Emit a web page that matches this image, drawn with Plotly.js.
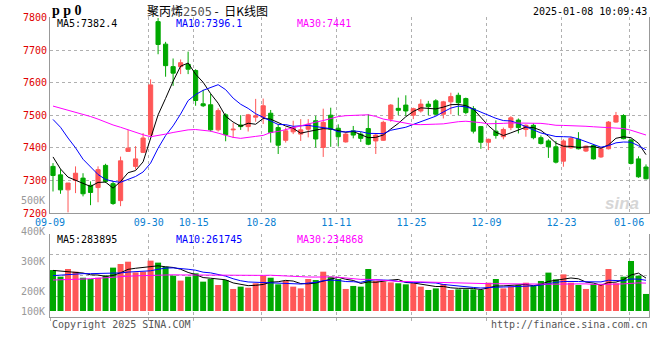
<!DOCTYPE html>
<html><head><meta charset="utf-8">
<script src="https://cdn.plot.ly/plotly-3.0.1.min.js"></script>
<style>html,body{margin:0;padding:0;background:#fff}#chart{width:660px;height:360px}</style>
</head><body><div id="chart"></div>
<script>
// ---- data ----
const dates = ['09-09','09-10','09-11','09-12','09-13','09-18','09-19','09-20','09-23','09-24','09-25','09-26','09-27','09-30',
'10-08','10-09','10-10','10-11','10-14','10-15','10-16','10-17','10-18','10-21','10-22','10-23','10-24','10-25','10-28','10-29','10-30','10-31',
'11-01','11-04','11-05','11-06','11-07','11-08','11-11','11-12','11-13','11-14','11-15','11-18','11-19','11-20','11-21','11-22','11-25','11-26','11-27','11-28','11-29',
'12-02','12-03','12-04','12-05','12-06','12-09','12-10','12-11','12-12','12-13','12-16','12-17','12-18','12-19','12-20','12-23','12-24','12-25','12-26','12-27','12-30','12-31',
'01-02','01-03','01-06','01-07','01-08'];
const openP = [7343,7317,7271,7300,7307,7285,7278,7346,7290,7238,7389,7343,7386,7440,7787,7718,7649,7649,7656,7637,
7535,7532,7455,7501,7455,7470,7465,7494,7493,7506,7462,7423,7449,7442,7457,7483,7401,7500,7460,7418,
7452,7442,7459,7421,7423,7488,7521,7531,7500,7513,7534,7544,7503,7541,7561,7551,7520,7465,7417,7451,
7434,7462,7485,7456,7469,7431,7421,7403,7359,7400,7426,7390,7407,7372,7397,7479,7499,7424,7366,7341];
const highP = [7353,7334,7292,7343,7322,7297,7343,7351,7297,7373,7455,7405,7445,7610,7798,7725,7674,7671,7695,7641,
7578,7566,7521,7506,7476,7500,7504,7550,7551,7516,7472,7462,7483,7488,7488,7498,7520,7523,7472,7447,
7467,7449,7503,7442,7483,7534,7554,7561,7523,7549,7544,7549,7544,7569,7569,7554,7528,7467,7428,7484,
7462,7497,7490,7472,7475,7438,7426,7421,7426,7434,7448,7407,7410,7403,7482,7510,7503,7428,7374,7349];
const lowP = [7266,7259,7202,7261,7251,7224,7233,7292,7225,7221,7389,7333,7384,7434,7687,7618,7590,7626,7626,7529,
7525,7450,7450,7420,7430,7455,7450,7480,7473,7416,7381,7416,7442,7421,7432,7401,7372,7403,7404,7416,
7429,7418,7408,7381,7421,7480,7500,7498,7488,7508,7500,7500,7490,7503,7500,7503,7444,7397,7393,7428,
7426,7454,7444,7434,7426,7410,7369,7352,7342,7397,7395,7387,7364,7369,7395,7477,7426,7349,7308,7303];
const closeP = [7315,7271,7292,7322,7259,7263,7333,7297,7229,7360,7399,7366,7430,7593,7717,7652,7629,7661,7641,7545,
7529,7455,7514,7440,7457,7465,7501,7498,7529,7447,7408,7452,7462,7455,7472,7427,7478,7457,7434,7442,
7439,7429,7411,7439,7478,7531,7515,7513,7520,7534,7526,7503,7541,7557,7538,7508,7451,7417,7426,7438,
7456,7492,7462,7469,7431,7413,7403,7356,7421,7429,7397,7405,7366,7397,7479,7499,7428,7352,7311,7305];
// volume, thousands of lots
const volumeK = [353,296,362,339,287,276,287,305,374,405,425,333,339,434,417,382,305,262,296,325,
253,276,224,267,190,210,201,239,305,287,230,259,210,195,276,267,339,296,276,190,
216,210,362,259,253,247,239,230,239,210,181,195,233,181,187,187,187,181,244,276,
195,210,224,244,216,259,331,273,316,244,224,190,230,224,362,239,296,431,305,147];
// moving-average values before enough bars are visible
const ma5Head = [7372,7335,7310,7300];
const ma10Head = [7487,7463,7430,7400,7365,7340,7318,7303,7297];
const ma30Head = [7528,7522,7515,7509,7503,7496,7488,7478,7470,7463,7455,7447,7440,7434,7437,7442,7447,7451,7455,7456,7454,7451,7445,7438,7432,7429,7431,7435,7438];
const volMa5Head = [350,345,340,335];
const volMa10Head = [305,310,315,320,322,322,322,323,325];
const volMa30Head = [267,268,270,272,275,278,282,288,292,296,300,303,306,309,311,312,312,311,310,310,309,309,308,307,306,306,306,307,307];
const tickDates = ['09-09','09-30','10-15','10-28','11-11','11-25','12-09','12-23','01-06'];
const priceTicks = [7200,7300,7400,7500,7600,7700,7800];

// ---- helpers ----
function ma(arr, n, head){
  return arr.map((v,i)=>{
    if(i < n-1) return head[i];
    let s=0; for(let k=i-n+1;k<=i;k++) s+=arr[k]; return s/n;
  });
}
const idx = dates.map((d,i)=>i);
const vol = volumeK.map(v=>v*1000);
const RED='#ff5757', GREEN='#00a800';
const barColors = closeP.map((c,i)=> c>=openP[i] ? RED : GREEN);
const tickvals = tickDates.map(d=>{const i=dates.indexOf(d); return i===0 ? -0.4 : i-0.25;});

const W=660,H=360;
const px=x=>x/W, py=y=>1-y/H;
const xr=[-0.4,79.4];
const volRange=[-51700,663800];
const volGrid=[1,2,3].map(k=>volRange[0]+(volRange[1]-volRange[0])*k/4);

const traces = [
 {type:'candlestick', x:idx, open:openP, high:highP, low:lowP, close:closeP, xaxis:'x', yaxis:'y',
  increasing:{line:{color:RED,width:1}, fillcolor:RED}, decreasing:{line:{color:GREEN,width:1}, fillcolor:GREEN},
  whiskerwidth:0, hoverinfo:'skip'},
 {type:'scatter', mode:'lines', x:idx, y:ma(closeP,5,ma5Head), line:{color:'#000000',width:1}, xaxis:'x', yaxis:'y', hoverinfo:'skip'},
 {type:'scatter', mode:'lines', x:idx, y:ma(closeP,10,ma10Head), line:{color:'#0000ff',width:1}, xaxis:'x', yaxis:'y', hoverinfo:'skip'},
 {type:'scatter', mode:'lines', x:idx, y:ma(closeP,30,ma30Head), line:{color:'#ff00ff',width:1}, xaxis:'x', yaxis:'y', hoverinfo:'skip'},
 {type:'bar', x:idx, y:vol, marker:{color:barColors, line:{width:0}}, xaxis:'x2', yaxis:'y2', hoverinfo:'skip'},
 {type:'scatter', mode:'lines', x:idx, y:ma(volumeK,5,volMa5Head).map(v=>v*1000), line:{color:'#000000',width:1}, xaxis:'x2', yaxis:'y2', hoverinfo:'skip'},
 {type:'scatter', mode:'lines', x:idx, y:ma(volumeK,10,volMa10Head).map(v=>v*1000), line:{color:'#0000ff',width:1}, xaxis:'x2', yaxis:'y2', hoverinfo:'skip'},
 {type:'scatter', mode:'lines', x:idx, y:ma(volumeK,30,volMa30Head).map(v=>v*1000), line:{color:'#ff00ff',width:1}, xaxis:'x2', yaxis:'y2', hoverinfo:'skip'}
];

const MONO='DejaVu Sans Mono';
function ann(text,x,y,xanchor,color,size,family,extra){
  return Object.assign({text:text, xref:'paper', yref:'paper', x:px(x), y:py(y), xanchor:xanchor, yanchor:'middle',
    showarrow:false, font:{family:family||MONO, size:size||10, color:color||'#000'}}, extra||{});
}
const annotations = [
  ann('<b>p p 0</b>',50,10,'left','#000',14,'Liberation Serif'),
  ann('聚丙烯<span style="font-family:DejaVu Sans Mono;color:#555">2505</span> -  日K线图',207,10,'center','#000',12,'Noto Sans CJK SC'),
  ann('2025-01-08 10:09:43',649,12,'right','#000',10),
  ann('MA5:7382.4',55,24,'left','#000',10),
  ann('MA10:7396.1',174,24,'left','#0000ff',10),
  ann('MA30:7441',295,24,'left','#ff00ff',10),
  ann('MA5:283895',55,239,'left','#000',10),
  ann('MA10:261745',174,239,'left','#0000ff',10),
  ann('MA30:234868',295,239,'left','#ff00ff',10),
  ann('500K',47,200,'right','#999',10),
  ann('400K',47,231,'right','#999',10),
  ann('300K',47,261,'right','#999',10),
  ann('200K',47,291,'right','#999',10),
  ann('100K',47,311,'right','#999',10),
  ann('Copyright 2025 SINA.COM',50,324,'left','#555',10),
  ann('http://finance.sina.com.cn',650,324,'right','#555',10),
  ann('<b><i>sina</i></b>',622,203,'center','#d6d6d6',17,'Liberation Sans')
];

const gridC='#b0b0b0', lineC='#999999';
const layout = {
  width:W, height:H, margin:{l:0,r:0,t:0,b:0}, paper_bgcolor:'#fff', plot_bgcolor:'#fff',
  showlegend:false, boxgap:0.2, bargap:0.2, dragmode:false,
  xaxis:{domain:[px(50),px(649)], range:xr, anchor:'y', tickmode:'array', tickvals:tickvals, ticktext:tickDates,
    tickfont:{family:MONO,size:10,color:'#0a7fd2'}, ticks:'', showgrid:true, gridcolor:gridC, griddash:'dot',
    showline:true, linecolor:lineC, linewidth:1, zeroline:false, rangeslider:{visible:false}, fixedrange:true},
  yaxis:{domain:[py(213),py(17.4)], range:[7200,7800], anchor:'x', tickmode:'array', tickvals:priceTicks,
    tickfont:{family:MONO,size:10,color:'#e00000'}, ticks:'', showgrid:true, gridcolor:gridC, griddash:'dot',
    showline:true, mirror:true, linecolor:lineC, linewidth:1, zeroline:false, fixedrange:true},
  xaxis2:{domain:[px(50),px(649)], range:xr, anchor:'y2', tickmode:'array', tickvals:tickvals, showticklabels:false,
    ticks:'outside', ticklen:3, tickcolor:gridC, showgrid:true, gridcolor:gridC, griddash:'dot',
    showline:true, linecolor:lineC, linewidth:1, zeroline:false, fixedrange:true},
  yaxis2:{domain:[py(317),py(234)], range:volRange, anchor:'x2', tickmode:'array', tickvals:volGrid, showticklabels:false,
    ticks:'', showgrid:true, gridcolor:gridC, griddash:'dot', showline:true, mirror:true, linecolor:lineC, linewidth:1,
    zeroline:false, fixedrange:true},
  annotations: annotations
};
Plotly.newPlot('chart', traces, layout, {staticPlot:true, displayModeBar:false});
</script>
</body></html>
